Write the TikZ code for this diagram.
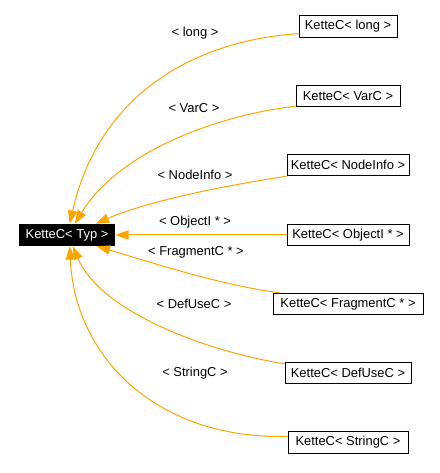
\documentclass[tikz,border=0pt]{standalone}
\usepackage{fontspec}
\setmainfont{Liberation Sans}
\usetikzlibrary{arrows.meta,calc}
\definecolor{edgeorange}{HTML}{FFA500}
\begin{document}
\begin{tikzpicture}[x=0.75pt,y=-0.75pt,
  txt/.style={font=\fontsize{9.7}{11}\selectfont},
  cls/.style={txt,draw=black,line width=0.75pt,inner sep=0pt,minimum height=16pt},
  basecls/.style={txt,fill=black,text=white,inner sep=0pt,minimum height=16.5pt,minimum width=72pt},
  inh/.style={draw=edgeorange,line width=0.75pt,-{Triangle[length=10pt,width=7pt]}},
  lbl/.style={txt,inner sep=0pt}]
\useasboundingbox (0,0) rectangle (439,473);
% nodes
\node[basecls] (base) at (67,235) {KetteC< Typ >};
\node[cls,minimum width=73.5pt] (long) at (348,26.5) {KetteC< long >};
\node[cls,minimum width=78pt] (varc) at (348,96) {KetteC< VarC >};
\node[cls,minimum width=91.5pt] (nodeinfo) at (348,165) {KetteC< NodeInfo >};
\node[cls,minimum width=91.5pt] (objecti) at (348,235) {KetteC< ObjectI * >};
\node[cls,minimum width=112.5pt] (fragment) at (348,304) {KetteC< FragmentC * >};
\node[cls,minimum width=94.5pt] (defuse) at (348,373) {KetteC< DefUseC >};
\node[cls,minimum width=90pt] (stringc) at (348,442.5) {KetteC< StringC >};
% labels
\node[lbl] (llong) at (195,33) {< long >};
\node[lbl] (lvarc) at (194,108) {< VarC >};
\node[lbl] (lnodeinfo) at (195,175) {< NodeInfo >};
\node[lbl] (lobjecti) at (195,222) {< ObjectI * >};
\node[lbl] (lfragment) at (196,252) {< FragmentC * >};
\node[lbl] (ldefuse) at (194,304) {< DefUseC >};
\node[lbl] (lstringc) at (195,373) {< StringC >};
% edges
\draw[inh] ($(long.south west)+(0,-4)$) .. controls (200,40) and (100,90) .. ($(base.north west)+(51,0)$);
\draw[inh] ($(varc.south west)+(0,-1)$) .. controls (220,115) and (120,150) .. ($(base.north west)+(56,0)$);
\draw[inh] (nodeinfo.south west) .. controls (230,185) and (150,200) .. ($(base.north west)+(77,0)$);
\draw[inh] (objecti.west) -- (base.east);
\draw[inh] ($(fragment.north west)+(7,0)$) .. controls (220,285) and (150,262) .. ($(base.south west)+(78,0)$);
\draw[inh] ($(defuse.north west)+(0,2)$) .. controls (200,350) and (100,310) .. ($(base.south west)+(54,0)$);
\draw[inh] ($(stringc.north west)+(0,5)$) .. controls (160,440) and (75,360) .. ($(base.south west)+(51,0)$);
\end{tikzpicture}
\end{document}
